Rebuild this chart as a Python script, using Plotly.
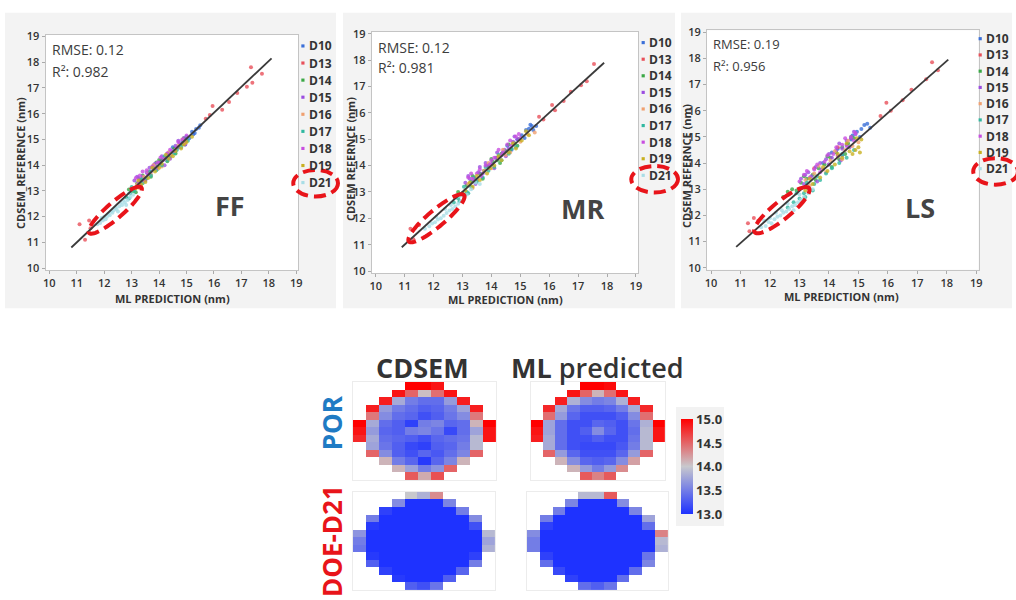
import numpy as np
import plotly.graph_objects as go

W, H = 1016, 600
FONT = "Open Sans"
N = None

# ---------------- data ----------------
SERIES = ["D10", "D13", "D14", "D15", "D16", "D17", "D18", "D19", "D21"]
COLORS = ["#3a6fd8", "#e8505a", "#3aa845", "#9b4de0", "#f0a070", "#30b8a0", "#c84ee0", "#c8b020", "#a8dde6"]
TICKS = list(range(10, 20))

FF_D10 = [[14.35,14.45],[14.6,14.55],[14.85,14.95],[15.0,15.1],[15.1,15.05],[15.2,15.3],[15.25,15.2],[15.35,15.4],[15.45,15.45],[15.5,15.55],[14.1,14.2],[13.8,13.85],[14.5,14.7],[14.95,14.8],[15.3,15.25]]
FF_D13 = [[11.1,11.7],[11.3,11.1],[11.45,11.85],[11.5,11.55],[13.3,13.45],[14.05,14.15],[15.7,15.8],[15.85,15.95],[15.95,16.3],[16.3,16.15],[16.55,16.45],[16.85,16.8],[17.2,17.05],[17.35,17.8],[17.4,17.2],[17.75,17.55]]
FF_D14 = [[12.9,13.05],[13.05,13.0],[13.2,13.3],[13.35,13.4],[13.5,13.45],[13.65,13.7],[13.8,13.9],[13.95,13.95],[14.1,14.2],[14.25,14.3],[14.4,14.35],[14.55,14.65],[14.7,14.7],[14.85,14.8],[15.0,14.95],[13.15,12.95],[13.4,13.6],[13.7,13.55],[14.0,14.2],[14.3,14.15],[14.6,14.45],[14.9,15.05],[13.9,14.1]]
FF_D15 = [[13.1,13.4],[13.25,13.5],[13.4,13.55],[13.55,13.7],[13.7,13.75],[13.85,14.05],[14.0,14.1],[14.15,14.2],[14.3,14.45],[14.45,14.55],[14.6,14.75],[14.75,14.85],[14.9,15.05],[13.3,13.25],[14.2,14.0],[13.2,13.55],[13.5,13.4],[13.8,14.0],[14.1,14.35],[14.4,14.25],[14.7,14.95],[14.95,14.8],[13.65,13.9]]
FF_D16 = [[13.2,13.25],[13.45,13.55],[13.7,13.65],[13.95,13.85],[14.2,14.25],[14.45,14.4],[14.7,14.75],[14.95,14.85],[13.6,13.75],[14.35,14.5],[13.3,13.1],[13.8,14.0],[14.1,13.95],[14.6,14.6],[14.85,15.0]]
FF_D17 = [[12.8,12.75],[12.95,12.9],[13.1,13.0],[13.25,13.15],[13.4,13.3],[13.55,13.5],[13.7,13.6],[13.9,13.8],[14.1,14.0],[14.3,14.2],[14.55,14.45],[14.8,14.7],[15.05,14.95],[13.0,13.15],[13.35,13.45],[13.65,13.75],[14.2,14.35],[14.65,14.6],[12.9,12.7]]
FF_D18 = [[13.15,13.5],[13.3,13.6],[13.45,13.4],[13.6,13.65],[13.75,13.95],[13.9,13.9],[14.05,14.3],[14.2,14.25],[14.4,14.6],[14.55,14.55],[14.7,14.9],[14.85,15.0],[15.0,15.15],[13.25,13.35],[13.55,13.8],[13.95,14.1],[14.3,14.45],[14.65,14.7],[14.95,14.95],[13.4,13.75]]
FF_D19 = [[13.15,13.1],[13.35,13.25],[13.6,13.5],[13.85,13.75],[14.1,14.05],[14.35,14.25],[14.6,14.55],[14.8,14.65],[15.0,14.9],[15.2,15.1],[13.25,13.4],[13.5,13.35],[13.75,13.9],[14.0,13.9],[14.25,14.4],[14.5,14.35],[14.9,14.8]]
FF_D21 = [[11.75,11.7],[11.85,11.75],[11.95,11.85],[12.05,11.9],[12.1,12.0],[12.2,12.05],[12.3,12.15],[12.35,12.25],[12.45,12.3],[12.55,12.4],[12.65,12.45],[12.75,12.55],[12.85,12.65],[12.95,12.75],[13.05,12.85],[12.25,12.2],[12.6,12.55],[12.0,12.0],[11.9,11.95],[12.15,12.1],[12.4,12.35],[12.7,12.65],[12.9,12.9],[12.5,12.2],[12.8,12.45]]
FF_FIT_X = [10.8, 18.1]
FF_FIT_Y = [10.8, 18.15]

MR_D10 = [[14.4,14.5],[14.7,14.6],[14.9,15.0],[15.05,15.15],[15.2,15.35],[15.3,15.4],[15.4,15.5],[15.45,15.35],[15.55,15.5],[14.2,14.3],[13.9,14.0],[14.55,14.75],[15.15,15.05],[15.35,15.55]]
MR_D13 = [[11.2,11.6],[11.3,11.2],[11.5,11.75],[13.4,13.55],[14.2,14.3],[15.65,15.85],[15.8,15.75],[16.1,16.3],[16.2,16.1],[16.5,16.45],[16.75,16.8],[17.1,17.05],[17.3,17.2],[17.55,17.85]]
MR_D14 = [[12.85,13.0],[13.0,12.95],[13.15,13.25],[13.3,13.4],[13.45,13.35],[13.6,13.7],[13.75,13.8],[13.9,13.95],[14.05,14.15],[14.2,14.2],[14.35,14.45],[14.5,14.55],[14.65,14.6],[14.8,14.85],[14.95,15.0],[13.1,12.9],[13.35,13.6],[13.7,13.5],[14.0,14.25],[14.3,14.1],[14.6,14.8],[14.9,14.75]]
MR_D15 = [[13.1,13.35],[13.25,13.5],[13.4,13.45],[13.55,13.75],[13.7,13.7],[13.85,14.0],[14.0,14.05],[14.15,14.3],[14.3,14.35],[14.45,14.6],[14.6,14.65],[14.75,14.9],[14.9,15.0],[14.1,13.9],[13.2,13.6],[13.45,13.3],[13.8,14.1],[14.2,14.5],[14.5,14.35],[14.8,15.1],[13.6,13.95]]
MR_D16 = [[13.2,13.3],[13.5,13.45],[13.75,13.8],[14.0,13.9],[14.25,14.3],[14.5,14.4],[14.75,14.8],[15.0,14.9],[15.25,15.2],[15.5,15.25],[13.35,13.15],[13.9,14.1],[14.4,14.6],[14.65,14.5]]
MR_D17 = [[12.7,12.6],[12.85,12.75],[13.0,12.9],[13.15,13.0],[13.3,13.2],[13.5,13.4],[13.7,13.55],[13.9,13.8],[14.1,13.95],[14.35,14.2],[14.6,14.45],[14.85,14.7],[13.2,12.95],[13.05,13.2],[13.4,13.55],[13.8,13.95],[14.25,14.4],[14.7,14.65],[12.9,12.65]]
MR_D18 = [[13.2,13.55],[13.35,13.5],[13.5,13.7],[13.65,13.6],[13.8,14.0],[13.95,14.05],[14.1,14.3],[14.25,14.6],[14.4,14.5],[14.55,14.8],[14.7,14.75],[14.85,15.1],[15.0,15.05],[13.3,13.7],[13.6,13.85],[14.0,14.2],[14.35,14.4],[14.65,14.95],[14.95,15.2]]
MR_D19 = [[13.1,13.05],[13.35,13.2],[13.6,13.45],[13.85,13.7],[14.1,14.0],[14.35,14.2],[14.6,14.5],[14.85,14.65],[15.05,14.95],[15.3,15.15],[13.25,13.35],[13.5,13.6],[13.95,13.9],[14.25,14.35],[14.75,14.85],[15.2,15.3]]
MR_D21 = [[11.7,11.6],[11.85,11.7],[11.95,11.8],[12.05,11.85],[12.15,11.95],[12.25,12.0],[12.35,12.1],[12.45,12.2],[12.55,12.3],[12.65,12.35],[12.75,12.45],[12.85,12.55],[12.95,12.65],[13.05,12.8],[13.15,12.9],[12.4,12.35],[13.3,13.1],[12.1,12.05],[12.6,12.5],[12.9,12.85],[13.45,13.35],[13.6,13.3]]
MR_FIT_X = [10.9, 17.9]
MR_FIT_Y = [10.9, 17.9]

LS_D10 = [[14.3,14.55],[14.6,14.7],[14.8,15.05],[14.95,15.2],[15.1,15.3],[15.2,15.45],[15.3,15.5],[15.4,15.35],[14.1,14.4],[13.8,14.0],[14.45,14.3],[14.75,14.9],[15.05,15.0]]
LS_D13 = [[11.25,11.7],[11.3,11.4],[11.45,11.9],[11.6,11.8],[13.5,13.8],[14.3,14.6],[15.75,15.8],[15.95,16.3],[16.1,16.0],[16.5,16.4],[16.8,16.8],[17.3,17.2],[17.5,17.85],[17.7,17.55]]
LS_D14 = [[12.6,12.9],[12.75,13.0],[12.9,12.95],[13.05,13.25],[13.25,13.4],[13.45,13.55],[13.65,13.8],[13.85,13.95],[14.05,14.2],[14.25,14.4],[14.45,14.6],[14.65,14.75],[14.85,14.95],[13.3,13.05],[14.1,13.85],[12.45,12.7],[13.15,13.5],[13.55,13.35],[13.95,14.25],[14.35,14.15],[14.75,15.0],[14.55,14.35]]
LS_D15 = [[13.05,13.4],[13.2,13.55],[13.4,13.5],[13.55,13.85],[13.75,13.75],[13.9,14.15],[14.1,14.2],[14.25,14.5],[14.45,14.55],[14.6,14.85],[14.75,14.95],[14.9,15.1],[13.6,13.3],[14.4,14.1],[13.3,13.65],[13.7,14.0],[14.0,14.35],[14.35,14.75],[14.7,14.6],[14.85,15.2],[13.15,13.2]]
LS_D16 = [[13.2,13.35],[13.5,13.6],[13.8,13.75],[14.05,14.1],[14.3,14.25],[14.55,14.5],[14.8,14.65],[15.0,14.8],[13.9,13.65],[13.35,13.15],[13.65,13.9],[14.2,14.45],[14.65,14.85],[14.45,14.15]]
LS_D17 = [[12.6,12.3],[12.8,12.5],[13.0,12.65],[13.15,12.85],[13.35,13.0],[13.5,13.2],[13.7,13.35],[13.9,13.6],[14.1,13.8],[14.35,14.0],[14.6,14.2],[14.85,14.5],[13.2,12.7],[12.9,12.85],[13.25,13.25],[13.6,13.5],[14.0,13.95],[14.45,14.35],[13.45,12.95]]
LS_D18 = [[13.15,13.55],[13.35,13.45],[13.5,13.75],[13.7,13.65],[13.85,14.05],[14.0,13.95],[14.15,14.35],[14.3,14.3],[14.45,14.7],[14.6,14.65],[14.75,15.0],[14.9,15.15],[13.0,13.3],[13.25,13.7],[13.6,13.95],[13.95,14.3],[14.25,14.6],[14.55,14.95],[14.85,14.85]]
LS_D19 = [[13.2,12.95],[13.45,13.2],[13.7,13.45],[13.95,13.7],[14.2,13.95],[14.45,14.2],[14.7,14.45],[14.9,14.5],[15.0,14.6],[15.1,14.9],[14.8,14.35],[13.35,13.4],[13.8,13.85],[14.3,14.35],[14.6,14.75],[15.05,14.4],[14.95,14.95]]
LS_D21 = [[11.7,11.55],[11.85,11.6],[11.95,11.75],[12.05,11.7],[12.15,11.85],[12.25,11.95],[12.35,12.0],[12.45,12.1],[12.55,12.15],[12.65,12.25],[12.75,12.35],[12.85,12.4],[12.95,12.5],[13.05,12.6],[13.15,12.7],[13.3,12.85],[12.4,12.2],[12.0,11.9],[11.8,11.8],[12.2,12.1],[12.6,12.45],[13.0,12.8],[13.45,13.0],[12.8,12.2]]
LS_FIT_X = [10.85, 18.05]
LS_FIT_Y = [10.8, 17.95]

PANEL_NAMES = ["FF", "MR", "LS"]
RMSE = ["0.12", "0.12", "0.19"]
R2 = ["0.982", "0.981", "0.956"]
Y_TITLES = ["CDSEM_REFERENCE (nm)", "CDSEM REFERNCE (nm)", "CDSEM REFERNCE (nm)"]
X_TITLE = "ML PREDICTION (nm)"

# wafer maps (13 rows x 11 cols)
CDSEM_POR = [
    [N, N, N, N, 15.0, 15.0, 14.9, N, N, N, N],
    [N, N, N, 14.9, 14.5, 14.05, 14.45, 14.9, N, N, N],
    [N, N, 14.85, 13.8, 13.5, 13.4, 13.4, 13.7, 14.85, N, N],
    [N, 14.85, 13.7, 13.5, 13.4, 13.3, 13.35, 13.5, 13.75, 14.85, N],
    [N, 14.4, 13.6, 13.4, 13.35, 13.2, 13.3, 13.45, 13.6, 14.4, N],
    [15.0, 13.8, 13.4, 13.3, 13.1, 13.5, 13.55, 13.35, 13.4, 14.1, 15.0],
    [14.9, 13.7, 13.35, 13.3, 13.5, 13.55, 13.45, 13.15, 13.4, 13.75, 14.9],
    [14.8, 13.8, 13.4, 13.35, 13.3, 13.2, 13.35, 13.4, 13.45, 13.9, 14.9],
    [N, 13.75, 13.45, 13.3, 13.15, 13.1, 13.3, 13.35, 13.5, 13.9, N],
    [N, 14.5, 13.6, 13.3, 13.2, 13.35, 13.25, 13.4, 13.55, 14.5, N],
    [N, N, 14.1, 13.5, 13.35, 13.05, 13.35, 13.55, 14.1, N, N],
    [N, N, N, 14.1, 13.75, 13.5, 13.65, 14.5, N, N, N],
    [N, N, N, N, 14.55, 14.15, 14.6, N, N, N, N],
]
ML_POR = [
    [N, N, N, N, 15.0, 15.0, 14.95, N, N, N, N],
    [N, N, N, 14.9, 14.5, 14.1, 14.45, 14.9, N, N, N],
    [N, N, 14.85, 13.85, 13.6, 13.5, 13.55, 13.85, 14.85, N, N],
    [N, 14.8, 13.8, 13.45, 13.3, 13.3, 13.35, 13.5, 13.8, 14.8, N],
    [N, 14.45, 13.7, 13.35, 13.2, 13.2, 13.2, 13.3, 13.6, 14.45, N],
    [15.0, 13.75, 13.4, 13.2, 13.2, 13.35, 13.3, 13.2, 13.45, 13.85, 15.0],
    [14.9, 13.75, 13.4, 13.2, 13.3, 13.6, 13.35, 13.2, 13.4, 13.9, 14.9],
    [14.85, 13.8, 13.4, 13.2, 13.2, 13.3, 13.2, 13.2, 13.45, 13.9, 14.9],
    [N, 13.8, 13.4, 13.2, 13.15, 13.15, 13.15, 13.25, 13.5, 13.9, N],
    [N, 14.5, 13.7, 13.35, 13.2, 13.2, 13.2, 13.35, 13.7, 14.5, N],
    [N, N, 14.1, 13.6, 13.35, 13.3, 13.35, 13.6, 14.2, N, N],
    [N, N, N, 14.1, 13.7, 13.5, 13.7, 14.3, N, N, N],
    [N, N, N, N, 14.55, 14.35, 14.55, N, N, N, N],
]
CDSEM_DOE = [
    [N, N, N, N, 14.0, 13.85, 14.3, N, N, N, N],
    [N, N, N, 13.6, 13.0, 13.0, 13.0, 13.55, N, N, N],
    [N, N, 13.1, 13.0, 13.0, 13.0, 13.0, 13.0, 13.5, N, N],
    [N, 13.5, 13.0, 13.0, 13.0, 13.0, 13.0, 13.0, 13.0, 13.6, N],
    [N, 13.05, 13.0, 13.0, 13.0, 13.0, 13.0, 13.0, 13.0, 13.2, N],
    [13.65, 13.0, 13.0, 13.0, 13.0, 13.0, 13.0, 13.0, 13.0, 13.0, 13.9],
    [13.5, 13.0, 13.0, 13.0, 13.0, 13.0, 13.0, 13.0, 13.0, 13.0, 13.75],
    [13.45, 13.0, 13.0, 13.0, 13.0, 13.0, 13.0, 13.0, 13.0, 13.0, 13.85],
    [N, 13.05, 13.0, 13.0, 13.0, 13.0, 13.0, 13.0, 13.0, 13.1, N],
    [N, 13.3, 13.0, 13.0, 13.0, 13.0, 13.0, 13.0, 13.0, 13.5, N],
    [N, N, 13.1, 13.0, 13.0, 13.0, 13.0, 13.0, 13.35, N, N],
    [N, N, N, 13.05, 13.0, 13.0, 13.0, 13.3, N, N, N],
    [N, N, N, N, 13.3, 13.2, 13.45, N, N, N, N],
]
ML_DOE = [
    [N, N, N, N, 13.9, 13.9, 14.55, N, N, N, N],
    [N, N, N, 13.55, 13.0, 13.0, 13.0, 13.6, N, N, N],
    [N, N, 13.5, 13.0, 13.0, 13.0, 13.0, 13.0, 13.55, N, N],
    [N, 13.5, 13.0, 13.0, 13.0, 13.0, 13.0, 13.0, 13.0, 13.75, N],
    [N, 13.1, 13.0, 13.0, 13.0, 13.0, 13.0, 13.0, 13.0, 13.4, N],
    [13.6, 13.0, 13.0, 13.0, 13.0, 13.0, 13.0, 13.0, 13.0, 13.0, 14.35],
    [13.5, 13.0, 13.0, 13.0, 13.0, 13.0, 13.0, 13.0, 13.0, 13.0, 13.9],
    [13.5, 13.0, 13.0, 13.0, 13.0, 13.0, 13.0, 13.0, 13.0, 13.0, 13.85],
    [N, 13.1, 13.0, 13.0, 13.0, 13.0, 13.0, 13.0, 13.0, 13.45, N],
    [N, 13.4, 13.0, 13.0, 13.0, 13.0, 13.0, 13.0, 13.0, 13.55, N],
    [N, N, 13.15, 13.0, 13.0, 13.0, 13.0, 13.0, 13.4, N, N],
    [N, N, N, 13.1, 13.0, 13.0, 13.0, 13.4, N, N, N],
    [N, N, N, N, 13.4, 13.3, 13.45, N, N, N, N],
]
CB_TICKS = [13.0, 13.5, 14.0, 14.5, 15.0]

# ---------------- helpers ----------------
def px(x):
    return x / W

def py(y):
    return 1 - y / H

RED = "#e8141a"
DARK = "#333333"

fig = go.Figure()

panels = [
    dict(data=[FF_D10, FF_D13, FF_D14, FF_D15, FF_D16, FF_D17, FF_D18, FF_D19, FF_D21],
         fit=(FF_FIT_X, FF_FIT_Y), dom_x=(43.8, 298.2), dom_y=(29.2, 269.1),
         bg=(3, 336), rmse=(48, 44, 67, 14), big=(229, 203), xt=(172, 298), yt=(18, 160),
         leg=(302.7, 307, 40.7, 17.4), ell=(12.4, 12.25, 1.3, 0.3, 43),
         lell=(293, 338, 167, 194)),
    dict(data=[MR_D10, MR_D13, MR_D14, MR_D15, MR_D16, MR_D17, MR_D18, MR_D19, MR_D21],
         fit=(MR_FIT_X, MR_FIT_Y), dom_x=(371.9, 640.0), dom_y=(26.4, 272.1),
         bg=(343, 677), rmse=(376, 42, 63, 14), big=(584, 206), xt=(506, 299), yt=(350, 156),
         leg=(645, 649, 37.3, 16.9), ell=(12.1, 12.0, 1.3, 0.3, 43),
         lell=(633, 680, 163, 190)),
    dict(data=[LS_D10, LS_D13, LS_D14, LS_D15, LS_D16, LS_D17, LS_D18, LS_D19, LS_D21],
         fit=(LS_FIT_X, LS_FIT_Y), dom_x=(709.2, 982.4), dom_y=(24.8, 268.8),
         bg=(683, 1016), rmse=(713, 39, 61, 13), big=(923, 205), xt=(844, 296), yt=(688, 163),
         leg=(984, 988, 33.3, 16.55), ell=(12.4, 12.2, 1.25, 0.32, 43),
         lell=(977, 1022, 155, 182)),
]

shapes = []
annotations = []
layout_axes = {}

def ellipse_path(cx, cy, a, b, ang):
    t = np.linspace(0, 2 * np.pi, 73)
    th = np.deg2rad(ang)
    xs = cx + a * np.cos(t) * np.cos(th) - b * np.sin(t) * np.sin(th)
    ys = cy + a * np.cos(t) * np.sin(th) + b * np.sin(t) * np.cos(th)
    return "M " + " L ".join(f"{x:.4f},{y:.4f}" for x, y in zip(xs, ys)) + " Z"

# panel grey backgrounds first
for p in panels:
    shapes.append(dict(type="rect", xref="paper", yref="paper", layer="below",
                       x0=px(p["bg"][0]), x1=px(p["bg"][1]), y0=py(308), y1=py(7),
                       fillcolor="#f3f3f3", line=dict(width=0)))

for i, p in enumerate(panels):
    k = "" if i == 0 else str(i + 1)
    xa, ya = "x" + k, "y" + k
    shapes.append(dict(type="rect", xref=xa + " domain", yref=ya + " domain", layer="below",
                       x0=0, x1=1, y0=0, y1=1, fillcolor="white", line=dict(width=0)))
    for name, col, pts in zip(SERIES, COLORS, p["data"]):
        fig.add_trace(go.Scatter(
            x=[q[0] for q in pts], y=[q[1] for q in pts], mode="markers", name=name,
            marker=dict(color=col, size=4, opacity=0.8, line=dict(width=0)),
            xaxis=xa, yaxis=ya, showlegend=False, hoverinfo="skip"))
    fig.add_trace(go.Scatter(x=p["fit"][0], y=p["fit"][1], mode="lines",
                             line=dict(color="#3a3a3a", width=1.8),
                             xaxis=xa, yaxis=ya, showlegend=False, hoverinfo="skip"))
    axfont = dict(family=FONT, size=11, color=DARK, weight=600)
    layout_axes["xaxis" + k] = dict(
        domain=[px(p["dom_x"][0]), px(p["dom_x"][1])], range=[9.86, 19.08], anchor=ya,
        tickvals=TICKS, showgrid=False, zeroline=False, showline=True, mirror=True,
        linecolor="#c4c4c4", linewidth=1, ticks="outside", ticklen=3, tickcolor="#aaaaaa",
        tickfont=axfont)
    layout_axes["yaxis" + k] = dict(
        domain=[py(p["dom_y"][1]), py(p["dom_y"][0])], range=[9.92, 19.07], anchor=xa,
        tickvals=TICKS, showgrid=False, zeroline=False, showline=True, mirror=True,
        linecolor="#c4c4c4", linewidth=1, ticks="outside", ticklen=3, tickcolor="#aaaaaa",
        tickfont=axfont)
    cx, cy, a, b, ang = p["ell"]
    shapes.append(dict(type="path", xref=xa, yref=ya, path=ellipse_path(cx, cy, a, b, ang),
                       line=dict(color=RED, width=4, dash="12px,6px"), layer="above"))
    x0, x1, y0, y1 = p["lell"]
    shapes.append(dict(type="circle", xref="paper", yref="paper",
                       x0=px(x0), x1=px(x1), y0=py(y1), y1=py(y0),
                       line=dict(color=RED, width=4, dash="12px,6px"), layer="above"))
    dx, tx, y0l, step = p["leg"]
    for j, (name, col) in enumerate(zip(SERIES, COLORS)):
        yy = y0l + j * step
        shapes.append(dict(type="rect", xref="paper", yref="paper",
                           x0=px(dx - 1.6), x1=px(dx + 1.6), y0=py(yy + 1.6), y1=py(yy - 1.6),
                           fillcolor=col, line=dict(width=0)))
        annotations.append(dict(x=px(tx), y=py(yy), xref="paper", yref="paper", text=name,
                                showarrow=False, xanchor="left", yanchor="middle",
                                font=dict(family=FONT, size=12, color=DARK, weight="bold")))
    rx, ry1, ry2, rs = p["rmse"]
    annotations.append(dict(x=px(rx), y=py(ry1), xref="paper", yref="paper",
                            text=f"RMSE: {RMSE[i]}", showarrow=False, xanchor="left",
                            yanchor="middle", font=dict(family=FONT, size=rs, color="#3c3c3c")))
    annotations.append(dict(x=px(rx), y=py(ry2), xref="paper", yref="paper",
                            text=f"R²: {R2[i]}", showarrow=False, xanchor="left",
                            yanchor="middle", font=dict(family=FONT, size=rs, color="#3c3c3c")))
    annotations.append(dict(x=px(p["big"][0]), y=py(p["big"][1]), xref="paper", yref="paper",
                            text=PANEL_NAMES[i], showarrow=False, xanchor="center",
                            yanchor="middle",
                            font=dict(family=FONT, size=27, color="#444444", weight="bold")))
    annotations.append(dict(x=px(p["xt"][0]), y=py(p["xt"][1]), xref="paper", yref="paper",
                            text=X_TITLE, showarrow=False, xanchor="center", yanchor="middle",
                            font=dict(family=FONT, size=11, color=DARK, weight="bold")))
    annotations.append(dict(x=px(p["yt"][0]), y=py(p["yt"][1]), xref="paper", yref="paper",
                            text=Y_TITLES[i], showarrow=False, textangle=-90,
                            xanchor="center", yanchor="middle",
                            font=dict(family=FONT, size=11, color=DARK, weight="bold")))

# ---------------- wafer heatmaps ----------------
CSCALE = [[0.0, "rgb(30,50,255)"], [0.5, "rgb(200,200,205)"], [1.0, "rgb(255,0,0)"]]
maps = [
    (CDSEM_POR, (353, 497), (383, 483), True),
    (ML_POR, (532, 667), (383, 483), False),
    (CDSEM_DOE, (353, 496), (495, 595), False),
    (ML_DOE, (528, 670), (495, 595), False),
]
for m, (z, (x0, x1), (y0, y1), show) in enumerate(maps):
    k = str(m + 4)
    hm = go.Heatmap(z=z, xaxis="x" + k, yaxis="y" + k, colorscale=CSCALE, zmin=13, zmax=15,
                    showscale=show, hoverinfo="skip")
    if show:
        hm.colorbar = dict(x=px(678), xanchor="left", xpad=5, y=py(469.5), yanchor="middle",
                           len=119, lenmode="pixels", ypad=12, thickness=12,
                           thicknessmode="pixels", bgcolor="#f2f2f2", outlinewidth=0,
                           tickvals=CB_TICKS, ticktext=[f"{v:.1f}" for v in CB_TICKS],
                           ticks="", tickfont=dict(family=FONT, size=13, color=DARK,
                                                   weight="bold"))
    fig.add_trace(hm)
    layout_axes["xaxis" + k] = dict(domain=[px(x0), px(x1)], range=[-0.5, 10.5], anchor="y" + k,
                                    showticklabels=False, showgrid=False, zeroline=False,
                                    showline=True, mirror=True, linecolor="#ececec", ticks="")
    layout_axes["yaxis" + k] = dict(domain=[py(y1), py(y0)], range=[12.5, -0.5], anchor="x" + k,
                                    showticklabels=False, showgrid=False, zeroline=False,
                                    showline=True, mirror=True, linecolor="#ececec", ticks="")

annotations += [
    dict(x=px(423), y=py(368), xref="paper", yref="paper", text="CDSEM", showarrow=False,
         xanchor="center", yanchor="middle",
         font=dict(family=FONT, size=27, color=DARK, weight="bold")),
    dict(x=px(599), y=py(368), xref="paper", yref="paper", text="<b>ML</b> predicted",
         showarrow=False, xanchor="center", yanchor="middle",
         font=dict(family=FONT, size=27, color=DARK, weight=600)),
    dict(x=px(332), y=py(425), xref="paper", yref="paper", text="POR", showarrow=False,
         textangle=-90, xanchor="center", yanchor="middle",
         font=dict(family=FONT, size=26, color="#1f7bc4", weight="bold")),
    dict(x=px(332), y=py(545), xref="paper", yref="paper", text="DOE-D21", showarrow=False,
         textangle=-90, xanchor="center", yanchor="middle",
         font=dict(family=FONT, size=26, color=RED, weight="bold")),
]

fig.update_layout(
    width=W, height=H, autosize=False, margin=dict(l=0, r=0, t=0, b=0, pad=0),
    paper_bgcolor="white", plot_bgcolor="white", showlegend=False,
    shapes=shapes, annotations=annotations, **layout_axes)

fig.write_html("out.html")
